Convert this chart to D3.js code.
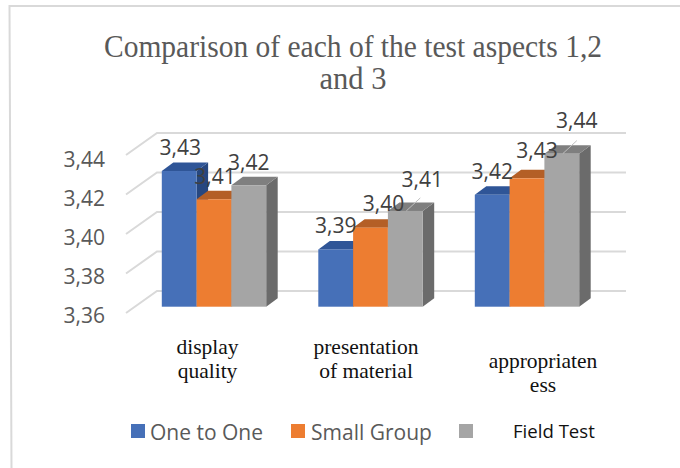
<!DOCTYPE html>
<html>
<head>
<meta charset="utf-8">
<style>
html, body {margin: 0; padding: 0; background: #fff;}
svg {display: block;}
.title {font: 32px "Liberation Serif", serif; fill: #595959;}
.cat {font: 21.5px "Liberation Serif", serif; fill: #111;}
.yaxis text {font: 21px "Open Sans", sans-serif; fill: #595959;}
.yaxis path {display: none;}
.val {font: 21px "Open Sans", sans-serif; fill: #404040;}
.leg {font: 21px "Open Sans", sans-serif; fill: #595959;}
.leg-black {font: 18.6px "Open Sans", sans-serif; fill: #111;}
</style>
</head>
<body>
<svg id="chart" width="680" height="468"></svg>
<script src="https://cdnjs.cloudflare.com/ajax/libs/d3/7.8.5/d3.min.js"></script>
<script>
// values
var categories = ["display quality", "presentation of material", "appropriateness"];
var seriesNames = ["One to One", "Small Group", "Field Test"];
var oneToOne = [3.4287, 3.389, 3.4167];
var smallGroup = [3.4144, 3.400, 3.425];
var fieldTest = [3.4215, 3.4085, 3.4375];
var valueLabels = [["3,43", "3,39", "3,42"], ["3,41", "3,40", "3,43"], ["3,42", "3,41", "3,44"]];
var yTicks = [3.36, 3.38, 3.40, 3.42, 3.44];

var series = [oneToOne, smallGroup, fieldTest];
var colors = ["#4670b8", "#ed7d31", "#a5a5a5"];
var topColors = ["#2f5597", "#b45f26", "#7f7f7f"];
var sideColors = ["#264780", "#9c5121", "#6b6b6b"];

var svg = d3.select("#chart");

// outer frame
svg.append("path")
  .attr("d", "M11.5,468L9.5,6H680")
  .attr("fill", "none")
  .attr("stroke", "#d9d9d9")
  .attr("stroke-width", 2);

// title
var titleLines = ["Comparison of each of the test aspects 1,2", "and 3"];
var titleW = [498, 67];
titleLines.forEach(function(t, i) {
  svg.append("text").attr("class", "title")
    .attr("x", 353).attr("y", 57 + i * 32)
    .attr("text-anchor", "middle")
    .attr("textLength", titleW[i])
    .attr("lengthAdjust", "spacingAndGlyphs")
    .text(t);
});

// scales, front plane of the bars
var y = d3.scaleLinear().domain([3.36, 3.44]).range([306.7, 148.7]);
var x0 = d3.scalePoint().domain(d3.range(categories.length)).range([214, 527]);
var barW = 34.8;
var depthX = 11.5, depthY = 8.5;

// gridlines: side wall plus back wall
var grid = svg.append("g");
yTicks.forEach(function(t) {
  var back = y(t) - 15.7;
  grid.append("path")
    .attr("d", "M126," + (back + 22) + "L157," + back + "H626")
    .attr("fill", "none")
    .attr("stroke", "#d9d9d9")
    .attr("stroke-width", 2);
});

// y axis labels sit on their own slightly tighter scale
var yLabels = d3.scaleLinear().domain([3.36, 3.44]).range([315.3, 159.3]);
var yAxis = d3.axisLeft(yLabels)
  .tickValues(yTicks)
  .tickSize(0)
  .tickPadding(0)
  .tickFormat(function(d) { return d3.format(".2f")(d).replace(".", ","); });
svg.append("g")
  .attr("class", "yaxis")
  .attr("transform", "translate(105,0)")
  .call(yAxis);

// bars
series.forEach(function(vals, s) {
  var g = svg.append("g");
  vals.forEach(function(v, c) {
    var left = x0(c) + (s - 1.5) * barW;
    var right = left + barW;
    var top = y(v), base = y(3.36);
    g.append("path")
      .attr("d", "M" + right + "," + top + "l" + depthX + "," + (-depthY) + "V" + (base - depthY) + "l" + (-depthX) + "," + depthY + "Z")
      .attr("fill", sideColors[s]);
    g.append("path")
      .attr("d", "M" + left + "," + top + "l" + depthX + "," + (-depthY) + "H" + (right + depthX) + "l" + (-depthX) + "," + depthY + "Z")
      .attr("fill", topColors[s]);
    g.append("rect")
      .attr("x", left).attr("y", top)
      .attr("width", barW).attr("height", base - top)
      .attr("fill", colors[s]);
  });
});

// leader lines on the two moved labels
[[2, 1], [2, 2]].forEach(function(k) {
  var s = k[0], c = k[1];
  var px = x0(c) + (s - 1) * barW;
  svg.append("line")
    .attr("x1", px + 1).attr("y1", y(series[s][c]))
    .attr("x2", px + 15).attr("y2", y(series[s][c]) - 13)
    .attr("stroke", "#bfbfbf").attr("stroke-width", 1);
});

// value labels, some were dragged away from their bar in the original
var labelDx = [[1, 0, 0], [1, 13, 10], [0, 17, 15]];
var labelDy = [[-24, -24, -23], [-23, -24, -28], [-23, -31, -33]];
series.forEach(function(vals, s) {
  vals.forEach(function(v, c) {
    svg.append("text")
      .attr("class", "val")
      .attr("x", x0(c) + (s - 1) * barW + labelDx[s][c])
      .attr("y", y(v) + labelDy[s][c] + 7.5)
      .attr("text-anchor", "middle")
      .text(valueLabels[s][c]);
  });
});

// category labels, wrapped by hand like the picture
var catLines = [["display", "quality"], ["presentation", "of material"], ["appropriaten", "ess"]];
var catY = [354, 354, 368];
var catX = [207.5, 366, 543];
catLines.forEach(function(lines, i) {
  lines.forEach(function(t, j) {
    svg.append("text").attr("class", "cat")
      .attr("x", catX[i]).attr("y", catY[i] + j * 24)
      .attr("text-anchor", "middle").text(t);
  });
});

// legend
var legX = [131, 291, 459];
var legTextX = [150, 311, 513];
seriesNames.forEach(function(n, i) {
  svg.append("rect").attr("x", legX[i]).attr("y", 424)
    .attr("width", 14).attr("height", 14).attr("fill", colors[i]);
  svg.append("text").attr("class", i == 2 ? "leg-black" : "leg")
    .attr("x", legTextX[i]).attr("y", i == 2 ? 438 : 440).text(n);
});
</script>
</body>
</html>
